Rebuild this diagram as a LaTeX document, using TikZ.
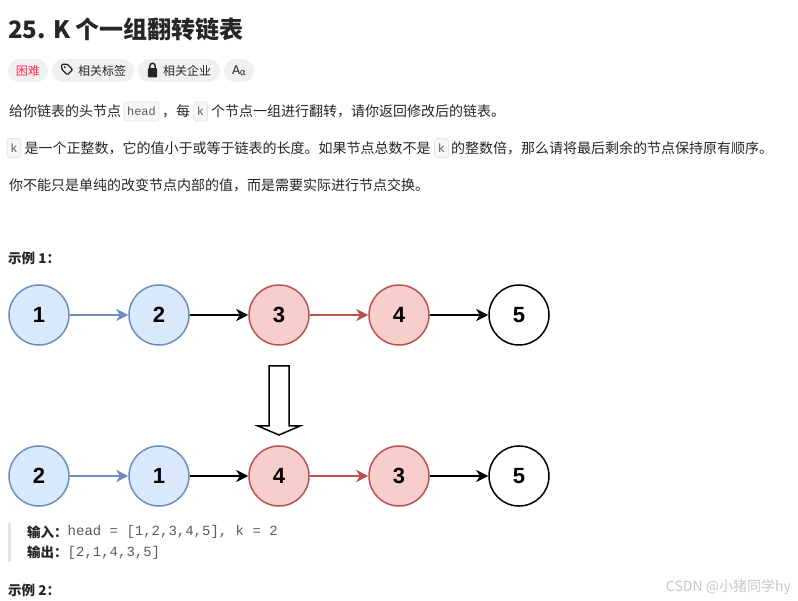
\documentclass[tikz,border=0pt]{standalone}
\usepackage{fontspec}
\usetikzlibrary{arrows.meta}
\newfontfamily\cjk{Noto Sans CJK SC}
\newfontfamily\mono{Liberation Mono}
\newfontfamily\arial{Liberation Sans}
\newfontfamily\dejavu{DejaVu Sans}
\definecolor{txt}{HTML}{262626}
\definecolor{blueF}{HTML}{DAE8FC}
\definecolor{blueS}{HTML}{6C8EBF}
\definecolor{redF}{HTML}{F8CECC}
\definecolor{redS}{HTML}{B85450}
\definecolor{pillbg}{HTML}{F0F0F0}
\definecolor{hard}{HTML}{FF2D55}
\definecolor{codebg}{HTML}{F7F7F8}
\definecolor{codebd}{HTML}{E4E4E7}
\definecolor{codetx}{HTML}{5C5C5C}
\definecolor{quotebar}{HTML}{E4E4E4}
\definecolor{wmark}{HTML}{C8C8C8}
\tikzset{
  body/.style={font=\cjk\fontsize{14}{16}\selectfont, text=txt, inner sep=0pt, anchor=west},
  bodyb/.style={font=\cjk\bfseries\fontsize{13.5}{16}\selectfont, text=txt, inner sep=0pt, anchor=west},
  pill/.style={fill=pillbg, rounded corners=11.5pt, minimum height=23pt, inner sep=0pt},
  pilltext/.style={font=\cjk\fontsize{12}{14}\selectfont, text=txt, inner sep=0pt},
  codebox/.style={fill=codebg, draw=codebd, line width=0.8pt, rounded corners=3pt, minimum height=19pt, inner sep=0pt, font=\mono\fontsize{12}{14}\selectfont, text=codetx},
  codetext/.style={font=\mono\fontsize{14}{16}\selectfont, text=codetx, inner sep=0pt, anchor=west},
  listnode/.style={circle, minimum size=60pt, line width=1.5pt, inner sep=0pt, font=\arial\bfseries\fontsize{22}{22}\selectfont, text=black},
  bluenode/.style={listnode, draw=blueS, fill=blueF},
  rednode/.style={listnode, draw=redS, fill=redF},
  plainnode/.style={listnode, draw=black, fill=white},
  link/.style={line width=1.7pt, -{Stealth[length=12pt,width=12pt,inset=3.5pt]}},
}
\begin{document}
\begin{tikzpicture}[x=1pt,y=-1pt]
\useasboundingbox (0,0) rectangle (798,601);
\fill[white] (0,0) rectangle (798,601);

% Title
\node[anchor=west, inner sep=0pt, font=\cjk\bfseries\fontsize{24}{28}\selectfont, text=txt] (title) at (8,29) {25. K 个一组翻转链表};

% Pills
\node[pill, minimum width=40pt] (p1) at (28,70.5) {};
\node[pilltext, text=hard] (p1t) at (28,70.5) {困难};
\node[pill, minimum width=82pt] (p2) at (93,70.5) {};
\node[pilltext, anchor=west] (p2t) at (78,70.5) {相关标签};
\node[pill, minimum width=82pt] (p3) at (179,70.5) {};
\node[pilltext, anchor=west] (p3t) at (163,70.5) {相关企业};
\node[pill, minimum width=30pt] (p4) at (239,70.5) {};
\node[inner sep=0pt, font=\dejavu\fontsize{12}{14}\selectfont, text=txt] (p4t) at (239,70.5) {A\kern-0.5pt\raisebox{-1.5pt}{\fontsize{9}{10}\selectfont α}};
% tag icon
\draw[txt, line width=1.3pt, line join=round, rounded corners=1pt]
  (61.8,64.2) -- (67.2,64.2) -- (72.6,69.6) -- (67.4,74.8) -- (61.8,69.4) -- cycle;
\fill[txt] (64.8,67.2) circle (1.1pt);
% lock icon
\fill[txt, rounded corners=1pt] (147.8,68.2) rectangle (157.2,77.4);
\draw[txt, line width=1.5pt] (149.8,68.5) -- (149.8,66) arc[start angle=180, end angle=0, radius=2.7pt] -- (155.2,68.5);

% Paragraph line 1
\node[body] (l1a) at (9,111) {给你链表的头节点};
\node[codebox, minimum width=35pt] (hd) at (141.5,111.5) {head};
\node[body] (l1b) at (162,111) {，每};
\node[codebox, minimum width=14pt] (k1) at (200.5,111.5) {k};
\node[body] (l1c) at (211,111) {个节点一组进行翻转，请你返回修改后的链表。};

% Paragraph line 2
\node[codebox, minimum width=14pt] (k2) at (14,148) {k};
\node[body] (l2a) at (24.5,148) {是一个正整数，它的值小于或等于链表的长度。如果节点总数不是};
\node[codebox, minimum width=14pt] (k3) at (441.5,148) {k};
\node[body] (l2b) at (451,148) {的整数倍，那么请将最后剩余的节点保持原有顺序。};

% Paragraph line 3
\node[body] (l3) at (9,185) {你不能只是单纯的改变节点内部的值，而是需要实际进行节点交换。};

% Example 1 heading
\node[bodyb] (ex1) at (8,258) {示例 1：};

% Row 1
\node[bluenode] (a1) at (39,315) {1};
\node[bluenode] (a2) at (159,315) {2};
\node[rednode] (a3) at (279,315) {3};
\node[rednode] (a4) at (399,315) {4};
\node[plainnode] (a5) at (519,315) {5};
\draw[link, blueS] (a1) -- (a2);
\draw[link, black] (a2) -- (a3);
\draw[link, redS] (a3) -- (a4);
\draw[link, black] (a4) -- (a5);

% Block arrow
\draw[line width=1.5pt, fill=white, line join=miter]
  (269,366) -- (289,366) -- (289,426) -- (300,426) -- (279,435) -- (258,426) -- (269,426) -- cycle;

% Row 2
\node[bluenode] (b1) at (39,476) {2};
\node[bluenode] (b2) at (159,476) {1};
\node[rednode] (b3) at (279,476) {4};
\node[rednode] (b4) at (399,476) {3};
\node[plainnode] (b5) at (519,476) {5};
\draw[link, blueS] (b1) -- (b2);
\draw[link, black] (b2) -- (b3);
\draw[link, redS] (b3) -- (b4);
\draw[link, black] (b4) -- (b5);

% Example block
\fill[quotebar] (8,523) rectangle (10.5,562);
\node[bodyb] (in) at (27,532) {输入：};
\node[codetext] (inv) at (67.5,532) {head = [1,2,3,4,5], k = 2};
\node[bodyb] (out) at (27,552.5) {输出：};
\node[codetext] (outv) at (67.5,552.5) {[2,1,4,3,5]};

% Example 2 heading
\node[bodyb] (ex2) at (8,590) {示例 2：};

% Watermark
\node[anchor=east, inner sep=0pt, font=\cjk\fontsize{14}{16}\selectfont, text=wmark] (wm) at (791,587) {CSDN @小猪同学hy};
\end{tikzpicture}
\end{document}
